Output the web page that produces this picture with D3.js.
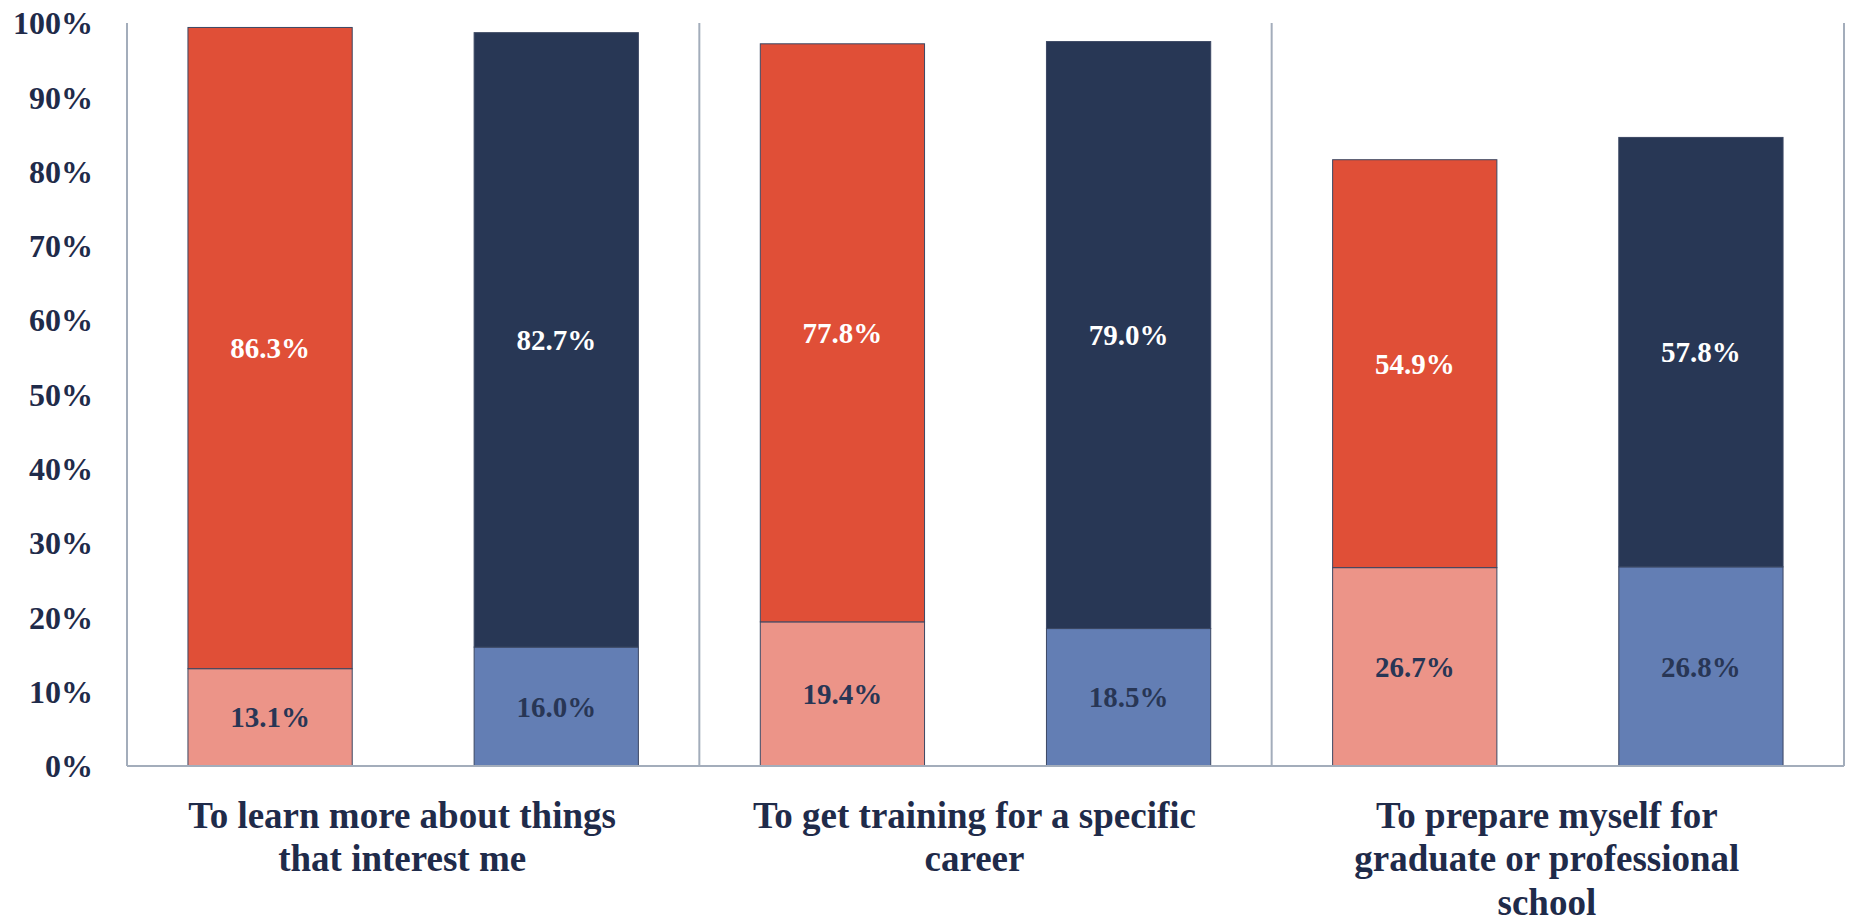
<!DOCTYPE html>
<html>
<head>
<meta charset="utf-8">
<script src="https://cdn.jsdelivr.net/npm/d3@7"></script>
<style>
  body { margin: 0; background: #fff; }
  svg { display: block; font-family: "Liberation Serif", "DejaVu Serif", serif; font-weight: bold; }
</style>
</head>
<body>
<div id="chart"></div>
<script>
// Categories (wrapped as in the picture)
const categories = [
    ["To learn more about things", "that interest me"],
    ["To get training for a specific", "career"],
    ["To prepare myself for", "graduate or professional", "school"]
];
const seriesNames = ["red", "blue"];
// lower (light) and upper (dark) segments, in percent
const redLower = [13.1, 19.4, 26.7];
const redUpper = [86.3, 77.8, 54.9];
const blueLower = [16.0, 18.5, 26.8];
const blueUpper = [82.7, 79.0, 57.8];
const yTicks = [0, 10, 20, 30, 40, 50, 60, 70, 80, 90, 100];

const colors = {
    red: { lower: "#ec9488", upper: "#e04f37", lowerText: "#283655", upperText: "#ffffff" },
    blue: { lower: "#637eb4", upper: "#283755", lowerText: "#283655", upperText: "#ffffff" }
};

const width = 1850, height = 923;
const plotLeft = 127, plotRight = 1844, plotTop = 23, plotBottom = 766;

const svg = d3.select("#chart").append("svg")
    .attr("width", width)
    .attr("height", height);

const y = d3.scaleLinear().domain([0, 100]).range([plotBottom, plotTop]);
const x0 = d3.scaleBand().domain(d3.range(categories.length)).range([plotLeft, plotRight]).padding(0);
const x1 = d3.scaleBand().domain(seriesNames).range([0, x0.bandwidth()])
    .paddingInner(0.426).paddingOuter(0.213);

// Build stacked rows
const rows = [];
categories.forEach((c, i) => {
    rows.push({ g: i, s: "red", lower: redLower[i], upper: redUpper[i] });
    rows.push({ g: i, s: "blue", lower: blueLower[i], upper: blueUpper[i] });
});

// y axis labels
svg.append("g")
    .selectAll("text")
    .data(yTicks)
    .join("text")
    .attr("x", 93)
    .attr("y", d => y(d))
    .attr("dy", "0.35em")
    .attr("text-anchor", "end")
    .attr("fill", "#1f2b4a")
    .style("font-size", "32px")
    .text(d => d + "%");

// Bars
const barG = svg.append("g");
rows.forEach(r => {
    const bx = x0(r.g) + x1(r.s);
    const bw = x1.bandwidth();
    const c = colors[r.s];
    const segs = [
        { y0: 0, y1: r.lower, fill: c.lower, text: c.lowerText, v: r.lower },
        { y0: r.lower, y1: r.lower + r.upper, fill: c.upper, text: c.upperText, v: r.upper }
    ];
    segs.forEach(s => {
        barG.append("rect")
            .attr("x", bx)
            .attr("y", y(s.y1))
            .attr("width", bw)
            .attr("height", y(s.y0) - y(s.y1))
            .attr("fill", s.fill)
            .attr("stroke", "#3b4763")
            .attr("stroke-width", 1);
        barG.append("text")
            .attr("x", bx + bw / 2)
            .attr("y", (y(s.y0) + y(s.y1)) / 2)
            .attr("dy", "0.35em")
            .attr("text-anchor", "middle")
            .attr("fill", s.text)
            .style("font-size", "29px")
            .text(s.v.toFixed(1) + "%");
    });
});

// Axis frame: left axis, group separators, right edge, baseline
const lineColor = "#a3adbb";
const gridX = d3.range(categories.length + 1).map(i => i < categories.length ? x0(i) : plotRight);
svg.append("g")
    .selectAll("line")
    .data(gridX)
    .join("line")
    .attr("x1", d => d).attr("x2", d => d)
    .attr("y1", plotTop).attr("y2", plotBottom)
    .attr("stroke", lineColor)
    .attr("stroke-width", 2);
svg.append("line")
    .attr("x1", plotLeft).attr("x2", plotRight)
    .attr("y1", plotBottom).attr("y2", plotBottom)
    .attr("stroke", lineColor)
    .attr("stroke-width", 2);

// Category labels
const catG = svg.append("g");
categories.forEach((lines, i) => {
    const cx = x0(i) + x0.bandwidth() / 2 - 11;
    catG.append("text")
        .attr("text-anchor", "middle")
        .attr("fill", "#1f2b4a")
        .style("font-size", "37px")
        .selectAll("tspan")
        .data(lines)
        .join("tspan")
        .attr("x", cx)
        .attr("y", (d, k) => 815 + k * 43.5)
        .attr("dy", "0.35em")
        .text(d => d);
});
</script>
</body>
</html>
